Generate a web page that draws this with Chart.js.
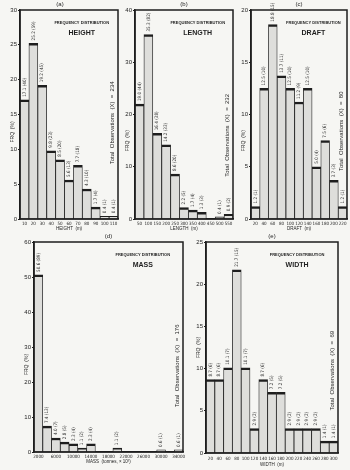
<!DOCTYPE html>
<html>
<head>
<meta charset="utf-8">
<script src="https://cdn.jsdelivr.net/npm/chart.js@4.4.1/dist/chart.umd.min.js"></script>
<style>
  html, body { margin: 0; padding: 0; background: #f6f6f3; }
  #wrap { position: relative; width: 350px; height: 470px; overflow: hidden; }
  canvas { position: absolute; left: 0; top: 0; }
</style>
</head>
<body>
<div id="wrap">
  <canvas id="c-height" width="350" height="470"></canvas>
  <canvas id="c-length" width="350" height="470"></canvas>
  <canvas id="c-draft" width="350" height="470"></canvas>
  <canvas id="c-mass" width="350" height="470"></canvas>
  <canvas id="c-width" width="350" height="470"></canvas>
</div>
<script>
// (a) height, m
const heightBins = ["10", "20", "30", "40", "50", "60", "70", "80", "90", "100", "110"];
const heightPct = [17.1, 25.2, 19.2, 9.8, 8.5, 5.6, 7.7, 4.3, 1.7, 0.4, 0.4];
const heightNotes = ["17.1 (40)", "25.2 (59)", "19.2 (45)", "9.8 (23)", "8.5 (20)", "5.6 (13)",
  "7.7 (18)", "4.3 (10)", "1.7 (4)", "0.4 (1)", "0.4 (1)"];

// (b) length, m
const lengthBins = ["50", "100", "150", "200", "250", "300", "350", "400", "450", "500", "550"];
const lengthPct = [22.0, 35.3, 16.4, 14.2, 8.6, 2.2, 1.7, 1.3, 0, 0.4, 0.9];
const lengthNotes = ["19.0 (44)", "35.3 (82)", "16.4 (38)", "14.2 (33)", "8.6 (20)", "2.2 (5)",
  "1.7 (4)", "1.3 (3)", "", "0.4 (1)", "0.9 (2)"];

// (c) draft, m
const draftBins = ["20", "40", "60", "80", "100", "120", "140", "160", "180", "200", "220"];
const draftPct = [1.2, 12.5, 18.6, 13.7, 12.5, 11.2, 12.5, 5.0, 7.5, 3.7, 1.2];
const draftNotes = ["1.2 (1)", "12.5 (10)", "18.8 (15)", "13.7 (11)", "12.5 (10)", "11.2 (9)",
  "12.5 (10)", "5.0 (4)", "7.5 (6)", "3.7 (3)", "1.2 (1)"];

// (d) mass, tonnes x 10^3
const massBins = ["2000", "4000", "6000", "8000", "10000", "12000", "14000", "16000", "18000",
  "20000", "22000", "24000", "26000", "28000", "30000", "32000", "34000"];
const massPct = [50.6, 7.4, 4.0, 2.8, 2.3, 1.1, 2.3, 0, 0, 1.1, 0, 0, 0, 0, 0.6, 0, 0.6];
const massNotes = ["50.6 (89)", "7.4 (13)", "4.0 (7)", "2.8 (5)", "2.3 (4)", "1.1 (2)", "2.3 (4)",
  "", "", "1.1 (2)", "", "", "", "", "0.6 (1)", "", "0.6 (1)"];

// (e) width, m
const widthBins = ["20", "40", "60", "80", "100", "120", "140", "160", "180", "200", "220",
  "240", "260", "280", "300"];
const widthPct = [8.7, 8.7, 10.1, 21.7, 10.1, 2.9, 8.7, 7.2, 7.2, 2.9, 2.9, 2.9, 2.9, 1.4, 1.4];
const widthNotes = ["8.7 (6)", "8.7 (6)", "10.1 (7)", "21.7 (15)", "10.1 (7)", "2.9 (2)", "8.7 (6)",
  "7.2 (5)", "7.2 (5)", "2.9 (2)", "2.9 (2)", "2.9 (2)", "2.9 (2)", "1.4 (1)", "1.4 (1)"];

const INK = "#1e1e1e";
const FONT = "'Liberation Sans', Arial, sans-serif";
const NARROW = "'Liberation Sans Narrow', 'DejaVu Sans Condensed', 'Liberation Sans', sans-serif";
const Y_W = 13;

function makePanel(id, p) {
  const textPlugin = {
    id: "panelText",
    afterDatasetsDraw(chart) {
      const ctx = chart.ctx;
      const a = chart.chartArea;
      const ys = chart.scales.y;
      ctx.save();
      ctx.fillStyle = INK;

      // value labels over the bars, rotated
      ctx.font = "4.6px " + NARROW;
      ctx.textAlign = "left";
      ctx.textBaseline = "middle";
      chart.getDatasetMeta(0).data.forEach((bar, i) => {
        if (!p.notes[i]) return;
        ctx.save();
        ctx.translate(bar.x, bar.y - 3);
        ctx.rotate(-Math.PI / 2);
        ctx.fillText(p.notes[i], 0, 0);
        ctx.restore();
      });

      // frame
      ctx.strokeStyle = INK;
      ctx.lineWidth = 1.5;
      ctx.strokeRect(a.left, a.top, a.right - a.left, a.bottom - a.top);

      // panel letter
      ctx.textAlign = "center";
      ctx.font = "6px " + FONT;
      ctx.fillText(p.letter, (a.left + a.right) / 2 + (p.letterDx || 0), a.top - 5.5);

      // heading
      const hx = a.left + (a.right - a.left) * p.headX;
      ctx.font = "bold 4px " + FONT;
      ctx.fillText("FREQUENCY DISTRIBUTION", hx, a.top + 13);
      ctx.font = "bold 7px " + FONT;
      ctx.fillText(p.name, hx, a.top + 23);

      // total observations, rotated
      ctx.font = "6px " + FONT;
      ctx.save();
      ctx.translate(a.right - 5.5, a.top + (a.bottom - a.top) * p.totalY);
      ctx.rotate(-Math.PI / 2);
      ctx.fillText("Total  Observations  (X)  =  " + p.total, 0, 0);
      ctx.restore();

      // y axis title, sitting in the tick label column
      ctx.font = "5px " + FONT;
      ctx.save();
      ctx.translate(a.left - 7, ys.getPixelForValue(p.yTitleAt));
      ctx.rotate(-Math.PI / 2);
      ctx.fillText("FRQ  (%)", 0, 0);
      ctx.restore();

      ctx.restore();
    }
  };

  return new Chart(document.getElementById(id), {
    type: "bar",
    data: {
      labels: p.bins,
      datasets: [{
        data: p.pct,
        backgroundColor: "#dededb",
        borderColor: INK,
        borderWidth: { top: 2.5, left: 0.8, right: 0.8, bottom: 0 },
        barPercentage: 1,
        categoryPercentage: 1
      }]
    },
    options: {
      responsive: false,
      animation: false,
      events: [],
      layout: {
        padding: { left: p.box.l - Y_W, top: p.box.t, right: 350 - p.box.r, bottom: 470 - p.box.b - p.xH }
      },
      plugins: { legend: { display: false }, tooltip: { enabled: false } },
      scales: {
        x: {
          grid: { display: false, drawTicks: false },
          border: { display: true, color: INK, width: 1.5 },
          ticks: {
            autoSkip: false, maxRotation: 0, padding: p.xPad, color: INK,
            font: { size: 4.5, family: NARROW },
            callback: function (v, i) { return i % p.tickEvery ? "" : this.getLabelForValue(v); }
          },
          title: { display: true, text: p.xTitle, color: INK, font: { size: 4.5, family: FONT }, padding: 0 },
          afterFit(s) { s.height = p.xH; }
        },
        y: {
          min: 0, max: p.yMax,
          grid: { drawOnChartArea: false, drawTicks: true, tickLength: 2, color: INK },
          border: { display: true, color: INK, width: 1.5 },
          ticks: { stepSize: p.yStep, padding: 1, color: INK, font: { size: 6, family: FONT } },
          afterFit(s) { s.width = Y_W; }
        }
      }
    },
    plugins: [textPlugin]
  });
}

makePanel("c-height", {
  bins: heightBins, pct: heightPct, notes: heightNotes,
  box: { l: 20, t: 10, r: 118, b: 219 }, xH: 12, xPad: 2, tickEvery: 1,
  yMax: 30, yStep: 5, yTitleAt: 12.5, letter: "(a)", letterDx: -9, headX: 0.63,
  name: "HEIGHT", xTitle: "HEIGHT  (m)", total: 234, totalY: 0.54
});
makePanel("c-length", {
  bins: lengthBins, pct: lengthPct, notes: lengthNotes,
  box: { l: 135, t: 10, r: 233, b: 219 }, xH: 12, xPad: 2, tickEvery: 1,
  yMax: 40, yStep: 10, yTitleAt: 15, letter: "(b)", headX: 0.64,
  name: "LENGTH", xTitle: "LENGTH  (m)", total: 232, totalY: 0.6
});
makePanel("c-draft", {
  bins: draftBins, pct: draftPct, notes: draftNotes,
  box: { l: 251, t: 10, r: 347, b: 219 }, xH: 12, xPad: 2, tickEvery: 1,
  yMax: 20, yStep: 5, yTitleAt: 7.5, letter: "(c)", headX: 0.65,
  name: "DRAFT", xTitle: "DRAFT  (m)", total: 80, totalY: 0.58
});
makePanel("c-mass", {
  bins: massBins, pct: massPct, notes: massNotes,
  box: { l: 34, t: 242, r: 183, b: 452 }, xH: 12.5, xPad: 2, tickEvery: 2,
  yMax: 60, yStep: 10, yTitleAt: 25, letter: "(d)", headX: 0.73,
  name: "MASS", xTitle: "MASS  (tonnes, \u00d7 10\u00b3)", total: 176, totalY: 0.59
});
makePanel("c-width", {
  bins: widthBins, pct: widthPct, notes: widthNotes,
  box: { l: 206, t: 242, r: 338, b: 453 }, xH: 14, xPad: 3, tickEvery: 1,
  yMax: 25, yStep: 5, yTitleAt: 12.5, letter: "(e)", headX: 0.69,
  name: "WIDTH", xTitle: "WIDTH  (m)", total: 69, totalY: 0.61
});
</script>
</body>
</html>
